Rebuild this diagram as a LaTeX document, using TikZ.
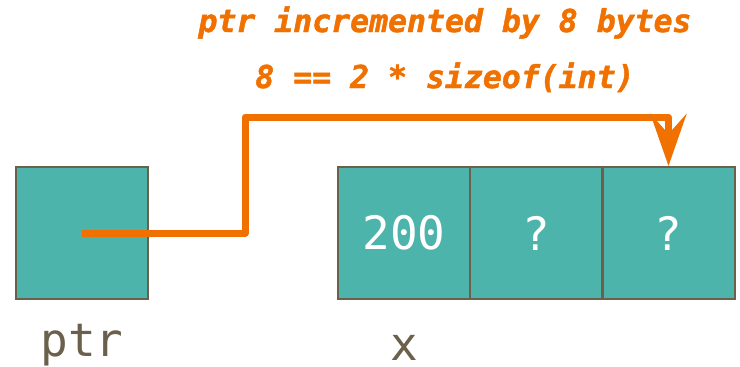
\documentclass[tikz,border=0pt]{standalone}
\usepackage{fontspec}
\setmonofont{DejaVu Sans Mono}
\newfontfamily\notefont{DejaVu Sans Mono}[FakeBold=1.5]
\usetikzlibrary{arrows.meta}
\definecolor{teal}{RGB}{77,180,172}
\definecolor{edge}{RGB}{107,96,76}
\definecolor{orng}{RGB}{240,112,0}
\tikzset{
  cell/.style={draw=edge, line width=2pt, fill=teal, minimum width=132pt, minimum height=132pt, inner sep=0pt,
    font=\ttfamily\fontsize{46}{46}\selectfont, text=white},
  lbl/.style={font=\ttfamily\fontsize{46}{46}\selectfont, text=edge, anchor=base, inner sep=0pt},
  note/.style={font=\notefont\bfseries\itshape\fontsize{31.5}{31.5}\selectfont, text=orng, anchor=base, inner sep=0pt},
  ptrline/.style={draw=orng, line width=7pt, line join=round, -{Stealth[length=52pt,width=36pt,inset=20pt]}}
}
\begin{document}
\begin{tikzpicture}[x=1pt,y=-1pt]
\useasboundingbox (0,0) rectangle (740,367);
\node[cell] (ptr) at (81.5,233) {};
\node[cell] (c1) at (404,233) {200};
\node[cell] (c2) at (536,233) {?};
\node[cell] (c3) at (668.5,233) {?};
\node[lbl] (ptrl) at (82,356) {ptr};
\node[lbl, text depth=0pt] (xl) at (404,360) {x};
\node[note] (n1) at (445,32) {ptr incremented by 8 bytes};
\node[note] (n2) at (445,88) {8 == 2 * sizeof(int)};
\coordinate (k1) at (245,233);
\coordinate (k2) at (668.5,117);
\draw[ptrline] (ptr.center) -- (k1) |- (k2) -- (c3.north);
\end{tikzpicture}
\end{document}
